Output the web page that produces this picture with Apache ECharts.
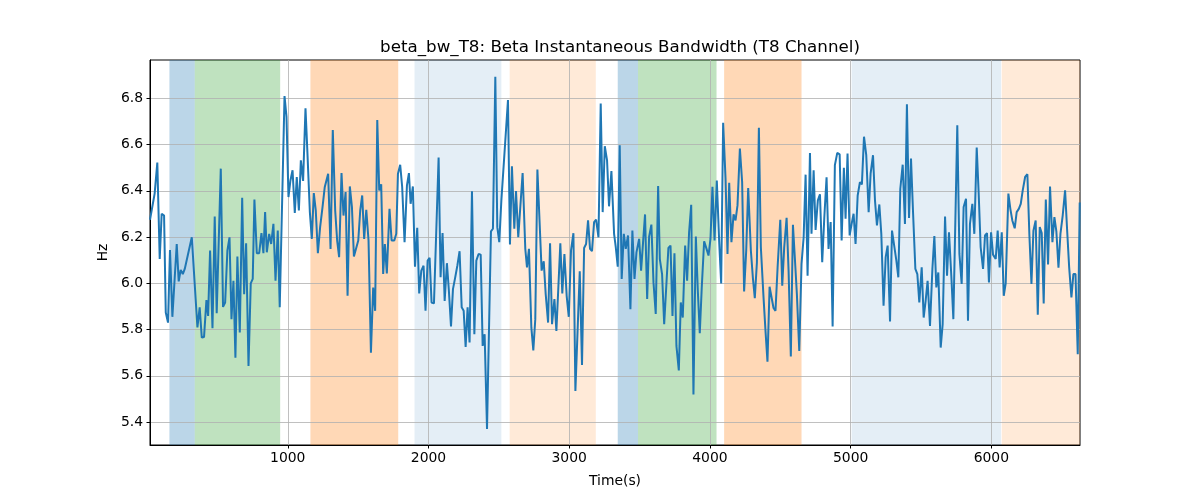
<!DOCTYPE html>
<html>
<head>
<meta charset="utf-8">
<script src="https://cdn.jsdelivr.net/npm/echarts@6/dist/echarts.min.js"></script>
<style>
  html, body { margin: 0; padding: 0; background: #fff; }
  #chart { width: 1200px; height: 500px; }
</style>
</head>
<body>
<div id="chart"></div>
<script>
// time (s) and beta bandwidth (Hz)
const times = [
  21, 54, 73, 90, 104, 121, 133, 149, 163, 180, 211, 225, 239, 254, 268, 318, 329, 358, 374, 389,
  405, 422, 434, 448, 465, 481, 495, 524, 540, 555, 571, 586, 600, 614, 628, 642, 659, 676, 690, 704,
  721, 737, 751, 763, 780, 797, 813, 827, 839, 851,
  868, 882, 898, 913, 929, 943, 977, 991, 1005, 1019, 1034, 1050, 1064, 1079, 1093, 1109, 1126, 1140, 1157, 1171,
  1185, 1199, 1214, 1230, 1247, 1263, 1287, 1304, 1320, 1337, 1351, 1365, 1382, 1396, 1411, 1425, 1441, 1456, 1470, 1484,
  1501, 1515, 1529, 1543, 1558, 1574, 1591, 1607, 1621, 1636, 1650, 1664, 1678,
  1690, 1704, 1723, 1738, 1757, 1771, 1783, 1799, 1813, 1830, 1847, 1861, 1873, 1889, 1904, 1920, 1934, 1949, 1965, 1979,
  1994, 2008, 2022, 2039, 2072, 2086, 2100, 2115, 2131, 2145, 2160, 2174, 2188, 2205, 2221, 2236, 2250, 2264, 2278, 2292,
  2309, 2326, 2340, 2356, 2371, 2385, 2399, 2416, 2444, 2458, 2475,
  2489, 2503, 2518, 2532, 2565, 2579, 2593, 2610, 2622, 2638, 2669, 2688, 2700, 2714, 2731, 2745, 2759, 2774, 2804, 2819,
  2833, 2850, 2864, 2878, 2895, 2909, 2923, 2937, 2951, 2966, 2982, 2997, 3013, 3030, 3044, 3075, 3091, 3106, 3120, 3134,
  3148, 3162, 3177, 3191, 3208, 3224, 3238, 3253, 3269, 3283, 3300, 3319,
  3331, 3345, 3359, 3373, 3388, 3402, 3418, 3435, 3449, 3464, 3478, 3497, 3511, 3525, 3539, 3554, 3568, 3584, 3599, 3615,
  3632, 3644, 3660, 3675, 3689, 3705, 3720, 3734, 3748, 3762, 3779, 3793, 3807, 3824, 3838, 3852, 3867, 3883, 3900, 3914,
  3928, 3942, 3959, 3976, 3990, 4004, 4018, 4033, 4049, 4066, 4080, 4094, 4111, 4125, 4137,
  4153, 4168, 4182, 4196, 4213, 4229, 4243, 4258, 4272, 4291, 4305, 4319, 4334, 4348, 4362, 4381, 4395, 4409, 4424, 4438,
  4452, 4466, 4481, 4500, 4514, 4528, 4545, 4559, 4575, 4590, 4604, 4618, 4635, 4651, 4666, 4680, 4694, 4711, 4722, 4737,
  4751, 4767, 4782, 4798, 4813, 4829, 4843, 4858, 4872, 4888, 4905, 4922, 4936, 4952,
  4964, 4978, 4993, 5007, 5021, 5035, 5050, 5066, 5080, 5095, 5111, 5128, 5142, 5159, 5173, 5187, 5204, 5218, 5234, 5249,
  5263, 5280, 5294, 5308, 5325, 5339, 5353, 5370, 5386, 5400, 5415, 5429, 5443, 5460, 5474, 5488, 5505, 5519, 5533, 5547,
  5564, 5581, 5595, 5609, 5623, 5640, 5654, 5671, 5685, 5699, 5716, 5730, 5758, 5773,
  5789, 5803, 5820, 5834, 5848, 5865, 5879, 5896, 5910, 5924, 5941, 5955, 5969, 5983, 5998, 6012, 6031, 6045, 6059, 6074,
  6088, 6102, 6121, 6135, 6149, 6166, 6180, 6195, 6209, 6223, 6240, 6256, 6270, 6285, 6299, 6315, 6330, 6344, 6358, 6372,
  6387, 6403, 6417, 6434, 6448, 6462, 6477, 6491, 6507, 6524, 6538, 6553, 6569, 6583, 6598, 6614, 6628
];
const bw = [
  6.275, 6.388, 6.522, 6.105, 6.301, 6.293, 5.874, 5.830, 6.144, 5.855, 6.170, 6.008, 6.058, 6.040, 6.062, 6.199, 6.199, 5.809, 5.896, 5.765,
  5.768, 5.927, 5.859, 6.142, 5.806, 6.289, 5.871, 6.496, 5.898, 5.917, 6.142, 6.199, 5.845, 6.011, 5.678, 6.116, 5.787, 6.370, 5.953, 6.173,
  5.642, 6.000, 6.019, 6.362, 6.130, 6.130, 6.217, 6.130, 6.308, 6.134,
  6.214, 6.170, 6.257, 6.011, 6.228, 5.896, 6.810, 6.720, 6.373, 6.445, 6.489, 6.304, 6.460, 6.315, 6.532, 6.443, 6.757, 6.561, 6.308, 6.192,
  6.390, 6.315, 6.130, 6.243, 6.330, 6.417, 6.474, 6.149, 6.663, 6.315, 6.185, 6.113, 6.477, 6.293, 6.395, 5.946, 6.419, 6.330, 6.116, 6.120,
  6.185, 6.315, 6.380, 6.192, 6.318, 6.185, 5.700, 5.982, 5.881, 6.706, 6.402, 6.428, 6.040,
  6.170, 6.043, 6.322, 6.185, 6.185, 6.214, 6.474, 6.513, 6.417, 6.178, 6.424, 6.477, 6.344, 6.419, 6.072, 6.240, 5.956, 6.055, 6.076, 5.881,
  6.098, 6.110, 5.917, 5.913, 6.544, 6.026, 6.217, 5.924, 6.087, 5.968, 5.813, 5.975, 6.019, 6.076, 6.139, 5.896, 5.881, 5.725, 5.896, 5.744,
  6.398, 5.780, 6.098, 6.127, 6.124, 5.729, 5.780, 5.370, 6.225, 6.236, 6.894,
  6.243, 6.178, 6.359, 6.362, 6.793, 6.168, 6.506, 6.236, 6.399, 6.199, 6.477, 6.149, 6.069, 6.149, 5.809, 5.710, 5.845, 6.492, 6.055, 6.095,
  5.953, 5.830, 6.173, 5.823, 5.932, 5.794, 5.787, 6.173, 5.956, 6.127, 5.946, 5.855, 6.142, 6.217, 5.534, 6.052, 5.647, 6.153, 6.170, 6.272,
  6.149, 6.139, 6.265, 6.275, 6.199, 6.778, 6.308, 6.593, 6.532, 6.333, 6.486, 6.214,
  6.156, 6.072, 6.597, 6.019, 6.214, 6.149, 6.207, 5.888, 6.228, 6.019, 6.134, 6.192, 6.055, 6.178, 6.298, 5.932, 6.202, 6.254, 6.004, 5.867,
  6.421, 6.105, 6.040, 5.823, 5.816, 6.153, 6.163, 5.859, 6.130, 5.729, 5.623, 5.917, 5.852, 6.163, 6.011, 6.221, 6.340, 5.519, 6.202, 5.968,
  5.784, 5.982, 6.182, 6.149, 6.120, 6.192, 6.417, 6.185, 6.445, 6.178, 5.999, 6.694, 6.453, 6.127, 6.435,
  6.178, 6.298, 6.272, 6.337, 6.583, 6.438, 5.965, 6.142, 6.412, 6.142, 6.026, 5.936, 6.091, 6.673, 6.156, 5.939, 5.794, 5.661, 5.985, 5.979,
  5.893, 5.881, 6.069, 6.275, 5.990, 6.156, 6.283, 6.055, 5.683, 6.253, 6.105, 5.953, 5.707, 6.084, 6.199, 6.470, 6.033, 6.564, 6.214, 6.489,
  6.231, 6.359, 6.385, 6.091, 6.286, 6.459, 6.149, 6.265, 5.813, 6.511, 6.564, 6.558, 6.185, 6.500,
  6.279, 6.561, 6.207, 6.257, 6.301, 6.170, 6.380, 6.438, 6.428, 6.634, 6.554, 6.308, 6.474, 6.554, 6.359, 6.250, 6.341, 6.214, 5.903, 6.113,
  6.163, 5.835, 6.228, 6.225, 6.098, 6.026, 6.409, 6.513, 6.257, 6.774, 6.283, 6.540, 6.315, 6.062, 6.040, 5.917, 6.069, 5.852, 5.924, 6.011,
  5.816, 6.062, 6.204, 5.982, 6.047, 5.722, 5.823, 6.289, 6.033, 6.221, 6.026, 5.845, 6.684, 6.127,
  5.997, 6.330, 6.366, 5.838, 6.257, 6.344, 6.214, 6.587, 6.388, 6.156, 6.062, 6.207, 6.217, 6.004, 6.221, 6.124, 6.105, 6.228, 6.069, 6.221,
  5.946, 6.000, 6.388, 6.322, 6.272, 6.238, 6.308, 6.322, 6.344, 6.402, 6.460, 6.472, 6.214, 5.997, 6.228, 6.272, 5.864, 6.243, 6.217, 5.913,
  6.362, 6.081, 6.419, 6.178, 6.286, 6.225, 6.067, 6.214, 6.293, 6.402, 6.236, 6.069, 5.939, 6.040, 6.040, 5.693, 6.350
];

// shaded stages
const spanStart = [159, 339, 1161, 1901, 2577, 3345, 3489, 4101, 5007, 6074];
const spanEnd   = [339, 946, 1785, 2518, 3189, 3489, 4047, 4651, 6069, 6630];
const spanKind  = ['blue', 'green', 'orange', 'paleBlue', 'paleOrange',
                   'blue', 'green', 'orange', 'paleBlue', 'paleOrange'];

const xTicks = [1000, 2000, 3000, 4000, 5000, 6000];
const yTicks = [5.4, 5.6, 5.8, 6.0, 6.2, 6.4, 6.6, 6.8];

const kindColor = {
  blue: 'rgba(31,119,180,0.3)',
  green: 'rgba(44,160,44,0.3)',
  orange: 'rgba(255,127,14,0.3)',
  paleBlue: 'rgba(31,119,180,0.12)',
  paleOrange: 'rgba(255,127,14,0.16)'
};

const font = 'DejaVu Sans';
const chart = echarts.init(document.getElementById('chart'), null, { renderer: 'canvas' });

const areas = spanStart.map((s, i) => [
  { xAxis: s, itemStyle: { color: kindColor[spanKind[i]] } },
  { xAxis: spanEnd[i] }
]);

const option = {
  animation: false,
  backgroundColor: '#fff',
  title: {
    text: 'beta_bw_T8: Beta Instantaneous Bandwidth (T8 Channel)',
    left: 615,
    top: 34,
    textAlign: 'center',
    textStyle: { fontFamily: font, fontSize: 16.7, fontWeight: 'normal', color: '#000' }
  },
  grid: {
    left: 150, right: 120, top: 60, bottom: 55,
    show: true, borderColor: '#000', borderWidth: 1,
    containLabel: false, outerBoundsMode: 'none'
  },
  xAxis: {
    type: 'value',
    min: 21,
    max: 6630,
    z: 1,
    name: 'Time(s)',
    nameLocation: 'middle',
    nameGap: 29,
    nameTextStyle: { fontFamily: font, fontSize: 13.9, color: '#000' },
    axisLine: { show: true, onZero: false, lineStyle: { color: '#000', width: 1 } },
    axisTick: { show: true, length: 3.5, lineStyle: { color: '#000' }, customValues: xTicks },
    axisLabel: {
      fontFamily: font, fontSize: 13.9, color: '#000', margin: 6,
      customValues: xTicks,
      formatter: v => String(v)
    },
    splitLine: { show: true, lineStyle: { color: '#b0b0b0', width: 0.8 } }
  },
  yAxis: {
    type: 'value',
    min: 5.3005,
    max: 6.966,
    z: 1,
    name: 'Hz',
    nameLocation: 'middle',
    nameGap: 35,
    nameTextStyle: { fontFamily: font, fontSize: 13.9, color: '#000' },
    axisLine: { show: true, onZero: false, lineStyle: { color: '#000', width: 1 } },
    axisTick: { show: true, length: 3.5, lineStyle: { color: '#000' }, customValues: yTicks },
    axisLabel: {
      fontFamily: font, fontSize: 13.9, color: '#000', margin: 7,
      customValues: yTicks,
      formatter: v => v.toFixed(1)
    },
    splitLine: { show: true, lineStyle: { color: '#b0b0b0', width: 0.8 } }
  },
  series: [
    {
      type: 'line',
      data: times.map((t, i) => [t, bw[i]]),
      showSymbol: false,
      symbol: 'none',
      lineStyle: { color: '#1f77b4', width: 2 },
      z: 2,
      markArea: { silent: true, z: 0, data: areas }
    }
  ]
};

chart.setOption(option);
</script>
</body>
</html>
